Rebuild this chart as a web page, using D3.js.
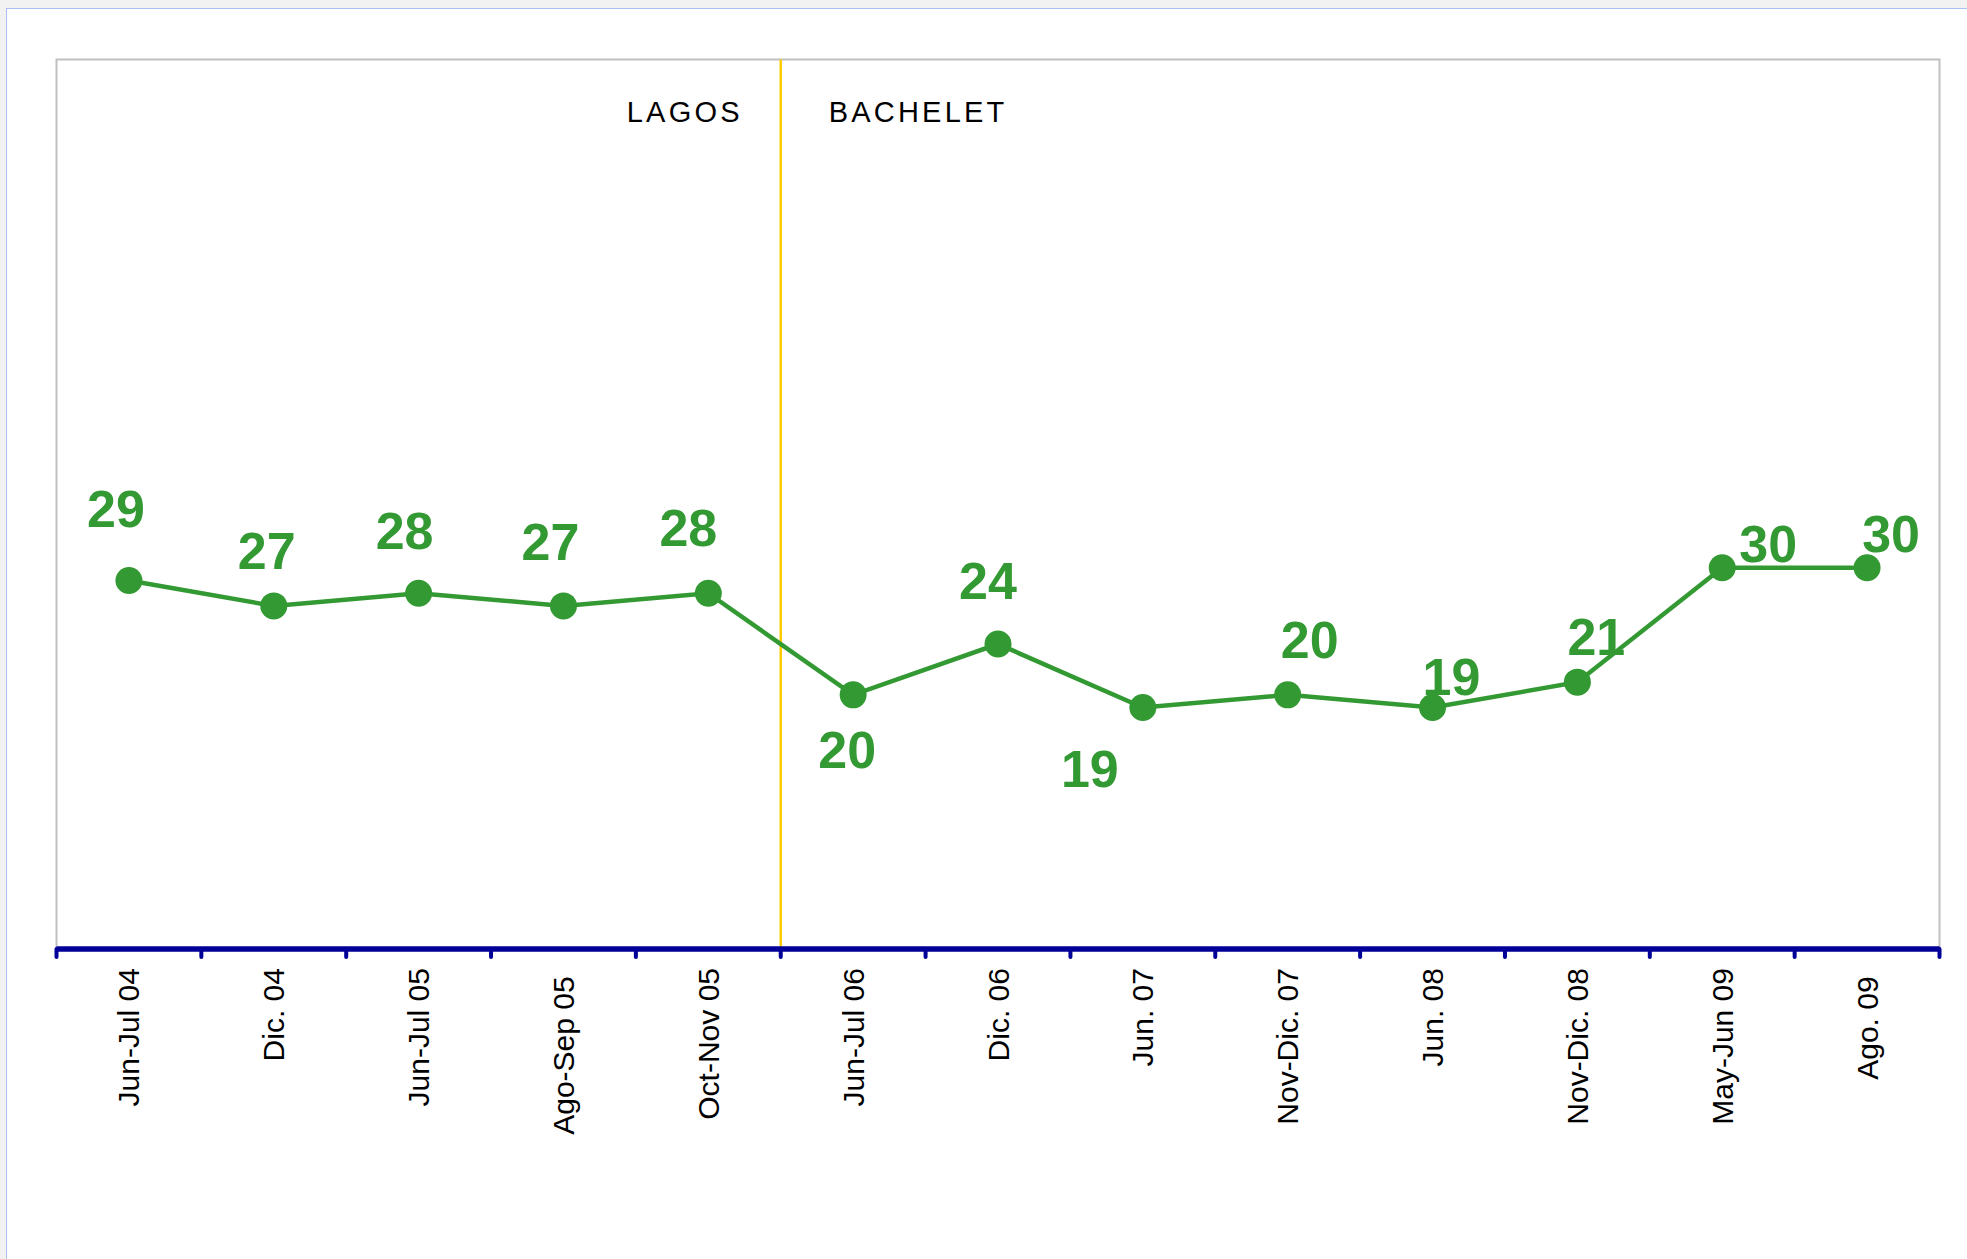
<!DOCTYPE html>
<html>
<head>
<meta charset="utf-8">
<script src="https://cdn.jsdelivr.net/npm/d3@7"></script>
<style>
  body { margin: 0; background: #f2f2f2; overflow: hidden; }
  svg { display: block; }
</style>
</head>
<body>
<div id="chart-placeholder"></div>
<script>
'use strict'

// data
const categories = ['Jun-Jul 04', 'Dic. 04', 'Jun-Jul 05', 'Ago-Sep 05 ', 'Oct-Nov 05', 'Jun-Jul 06',
    'Dic. 06', 'Jun. 07', 'Nov-Dic. 07', 'Jun. 08', 'Nov-Dic. 08', 'May-Jun 09', 'Ago. 09 ']
const values = [29, 27, 28, 27, 28, 20, 24, 19, 20, 19, 21, 30, 30]
const periods = ['LAGOS', 'BACHELET']
const yDomain = [0, 70]

// hand placed data labels (offset from the point, to the baseline)
const labelNudge = [[-13, -53], [-7, -37], [-14, -44], [-13, -46], [-20, -47], [-6, 73],
    [-10, -45], [-53, 79], [22, -37], [19, -13], [19, -27], [46, -6], [24, -16]]

////////////////////////////////////
//////////// svg setup /////////////
////////////////////////////////////

var svgWidth = 1967
var svgHeight = 1259

var margin = {
    left: 56.5,
    right: 27.5,
    top: 59.5,
    bottom: 310
}

const width = svgWidth - margin.left - margin.right
const height = svgHeight - margin.top - margin.bottom

const root = d3.select('#chart-placeholder').append('svg')
    .attr('width', svgWidth)
    .attr('height', svgHeight)

// page panel
root.append('rect')
    .attr('x', 6.5)
    .attr('y', 8.5)
    .attr('width', svgWidth)
    .attr('height', svgHeight)
    .attr('fill', '#ffffff')
    .attr('stroke', '#a9c0f5')
    .attr('stroke-width', 1)

const svg = root.append('g')
    .attr('transform', 'translate(' + margin.left + ',' + margin.top + ')')

// scales
const x = d3.scaleBand()
    .domain(categories)
    .range([0, width])
    .padding(0)

const y = d3.scaleLinear()
    .domain(yDomain)
    .range([height, 0])

const cx = (d, i) => x(categories[i]) + x.bandwidth() / 2

// plot frame
svg.append('rect')
    .attr('x', 0)
    .attr('y', 0)
    .attr('width', width)
    .attr('height', height)
    .attr('fill', 'none')
    .attr('stroke', '#c0c0c0')
    .attr('stroke-width', 2)

// government change marker
const split = x(categories[5])
svg.append('line')
    .attr('x1', split)
    .attr('x2', split)
    .attr('y1', 0)
    .attr('y2', height)
    .attr('stroke', '#ffcc00')
    .attr('stroke-width', 2.5)

svg.append('text')
    .attr('x', split - 38)
    .attr('y', 62)
    .attr('text-anchor', 'end')
    .attr('font-family', 'Liberation Sans, Arial, sans-serif')
    .attr('font-size', 29)
    .attr('letter-spacing', 3.2)
    .attr('fill', '#000000')
    .text(periods[0])

svg.append('text')
    .attr('x', split + 48)
    .attr('y', 62)
    .attr('font-family', 'Liberation Sans, Arial, sans-serif')
    .attr('font-size', 29)
    .attr('letter-spacing', 3.2)
    .attr('fill', '#000000')
    .text(periods[1])

// x axis (labels from d3, ticks on band edges)
const xAxis = svg.append('g')
    .attr('transform', 'translate(0,' + height + ')')
    .call(d3.axisBottom(x).tickSize(0).tickPadding(0))

xAxis.select('.domain').remove()

xAxis.selectAll('text')
    .attr('transform', 'translate(0,19) rotate(-90)')
    .attr('x', 0)
    .attr('y', 0)
    .attr('dy', '0.35em')
    .attr('text-anchor', 'end')
    .attr('font-family', 'Liberation Sans, Arial, sans-serif')
    .attr('font-size', 30)
    .attr('fill', '#000000')
    .style('white-space', 'pre')

const edges = categories.map(d => x(d)).concat([x.range()[1]])

svg.append('g')
    .selectAll('line')
    .data(edges)
    .join('line')
    .attr('x1', d => d)
    .attr('x2', d => d)
    .attr('y1', height)
    .attr('y2', height + 8)
    .attr('stroke', '#000099')
    .attr('stroke-width', 4)
    .attr('stroke-linecap', 'round')

svg.append('line')
    .attr('x1', 0)
    .attr('x2', width)
    .attr('y1', height)
    .attr('y2', height)
    .attr('stroke', '#000099')
    .attr('stroke-width', 5.5)

// series
const line = d3.line()
    .x(cx)
    .y(d => y(d))

svg.append('path')
    .datum(values)
    .attr('d', line)
    .attr('fill', 'none')
    .attr('stroke', '#339933')
    .attr('stroke-width', 4.5)

svg.append('g')
    .selectAll('circle')
    .data(values)
    .join('circle')
    .attr('cx', cx)
    .attr('cy', d => y(d))
    .attr('r', 13.5)
    .attr('fill', '#339933')

svg.append('g')
    .selectAll('text')
    .data(values)
    .join('text')
    .attr('x', (d, i) => cx(d, i) + labelNudge[i][0])
    .attr('y', (d, i) => y(d) + labelNudge[i][1])
    .attr('text-anchor', 'middle')
    .attr('font-family', 'Liberation Sans, Arial, sans-serif')
    .attr('font-weight', 'bold')
    .attr('font-size', 52)
    .attr('fill', '#339933')
    .text(d => d)

</script>
</body>
</html>
